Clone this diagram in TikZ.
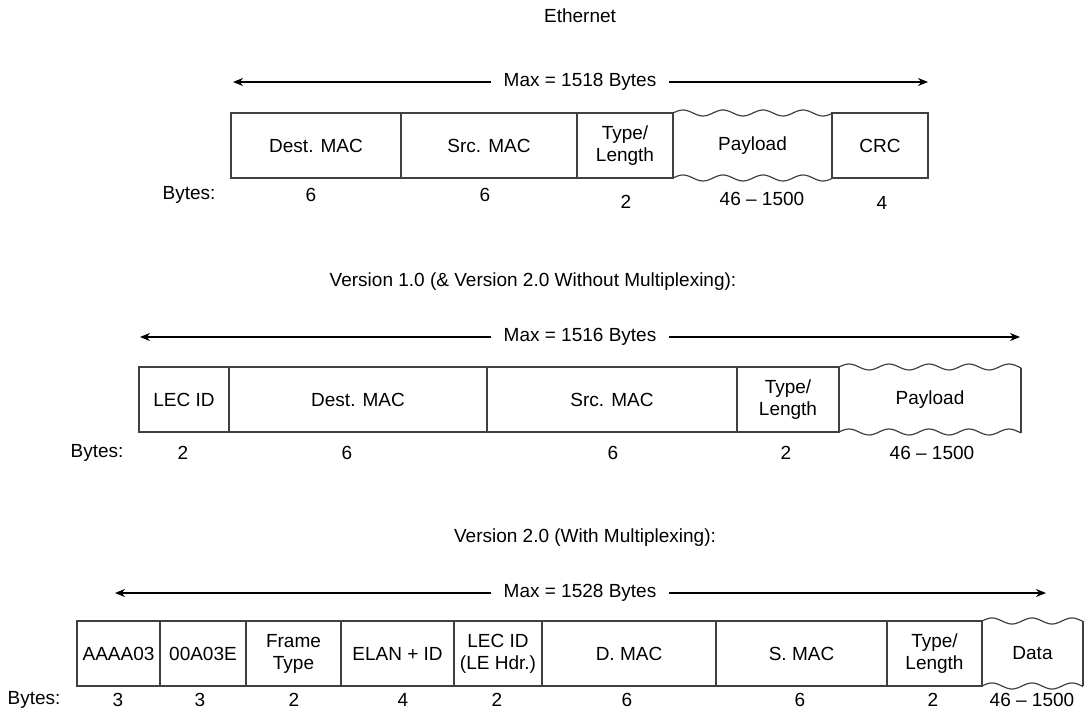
\documentclass[tikz,border=0pt]{standalone}
\usepackage{fontspec}
\setmainfont{Liberation Sans}
\usetikzlibrary{arrows.meta}

\newcommand{\lbl}{\fontsize{9.5}{11}\selectfont}
% wavy top and bottom edge of a variable length field
\newcommand{\wavefield}[4]{%
  \draw[wave] plot[domain=#1:#2, samples=60, smooth] (\x,{#3-3*sin((\x-#1)*9)});
  \draw[wave] plot[domain=#1:#2, samples=60, smooth] (\x,{#4-3*sin((\x-#1)*9)});
}
\newcommand{\waveedge}[4]{%
  \draw[wave] (#2,{#3-3*sin((#2-#1)*9)}) -- (#2,{#4-3*sin((#2-#1)*9)});
}

\tikzset{
  field/.style={rectangle, draw=black!75, line width=0.6pt, minimum height=32.5pt,
    inner sep=0pt, outer sep=0pt, align=center, font=\lbl},
  wavy/.style={field, draw=none},
  wave/.style={draw=black!75, line width=0.6pt},
  txt/.style={inner sep=0pt, font=\lbl},
  maxlbl/.style={inner sep=6pt, font=\lbl},
  dim/.style={-{Stealth[length=5pt,width=4pt]}, line width=0.6pt}
}

\begin{document}
\begin{tikzpicture}[x=0.5pt, y=-0.5pt]
  \useasboundingbox (0,0) rectangle (1087,717);

  % Ethernet
  \node[txt] (ethtitle) at (580,16) {Ethernet};
  \coordinate (el) at (233,82);
  \coordinate (er) at (928,82);
  \node[maxlbl] (emax) at (580,82) {Max = 1518 Bytes};
  \draw[dim] (emax.west) -- (el);
  \draw[dim] (emax.east) -- (er);
  \foreach \xa/\xb/\nm/\txt in {231/401/edmac/Dest. MAC, 401/577/esmac/Src. MAC,
      577/673/etype/{Type/\\Length}, 832/928/ecrc/CRC}
    \node[field, minimum width={(\xb-\xa)*0.5pt}] (\nm) at ({(\xa+\xb)/2},145.5) {\txt};
  \node[wavy, minimum width=79.5pt] (epay) at (752.5,145.5) {Payload};
  \wavefield{673}{832}{113}{178}
  \foreach \xx/\yy/\nm/\txt in {189/195/eb0/Bytes:, 311/195/eb1/6, 485/195/eb2/6,
      626/202/eb3/2, 762/199/eb4/46 -- 1500, 882/203/eb5/4}
    \node[txt] (\nm) at (\xx,\yy) {\txt};

  % Version 1.0
  \node[txt] (vatitle) at (533,282) {Version 1.0 (\& Version 2.0 Without Multiplexing):};
  \coordinate (vl) at (140,337);
  \coordinate (vr) at (1020,337);
  \node[maxlbl] (vmax) at (580,337) {Max = 1516 Bytes};
  \draw[dim] (vmax.west) -- (vl);
  \draw[dim] (vmax.east) -- (vr);
  \foreach \xa/\xb/\nm/\txt in {139/229/vlec/LEC ID, 229/487/vdmac/Dest. MAC,
      487/737/vsmac/Src. MAC, 737/839/vtype/{Type/\\Length}}
    \node[field, minimum width={(\xb-\xa)*0.5pt}] (\nm) at ({(\xa+\xb)/2},399.5) {\txt};
  \node[wavy, minimum width=91pt] (vpay) at (930,399.5) {Payload};
  \wavefield{839}{1021}{367}{432}
  \waveedge{839}{1021}{367}{432}
  \foreach \xx/\yy/\nm/\txt in {97/453/vb0/Bytes:, 183/453/vb1/2, 347/453/vb2/6,
      613/453/vb3/6, 786/453/vb4/2, 932/453/vb5/46 -- 1500}
    \node[txt] (\nm) at (\xx,\yy) {\txt};

  % Version 2.0
  \node[txt] (vbtitle) at (585,538) {Version 2.0 (With Multiplexing):};
  \coordinate (wl) at (115,593);
  \coordinate (wr) at (1046,593);
  \node[maxlbl] (wmax) at (580,593) {Max = 1528 Bytes};
  \draw[dim] (wmax.west) -- (wl);
  \draw[dim] (wmax.east) -- (wr);
  \foreach \xa/\xb/\nm/\txt in {77/160/wllc/AAAA03, 160/246/wsnap/00A03E,
      246/341/wframe/{Frame\\Type}, 341/454/welan/ELAN + ID,
      454/542/wlec/{LEC ID\\(LE Hdr.)}, 542/716/wdmac/D. MAC,
      716/887/wsmac/S. MAC, 887/982/wtype/{Type/\\Length}}
    \node[field, minimum width={(\xb-\xa)*0.5pt}] (\nm) at ({(\xa+\xb)/2},653.5) {\txt};
  \node[wavy, minimum width=50.5pt] (wdata) at (1032.5,653.5) {Data};
  \wavefield{982}{1083}{621}{686}
  \waveedge{982}{1083}{621}{686}
  \foreach \xx/\yy/\nm/\txt in {34/700/wb0/Bytes:, 118/700/wb1/3, 200/700/wb2/3,
      294/700/wb3/2, 403/700/wb4/4, 497/700/wb5/2, 627/700/wb6/6,
      800/700/wb7/6, 933/700/wb8/2, 1032/700/wb9/46 -- 1500}
    \node[txt] (\nm) at (\xx,\yy) {\txt};
\end{tikzpicture}
\end{document}
